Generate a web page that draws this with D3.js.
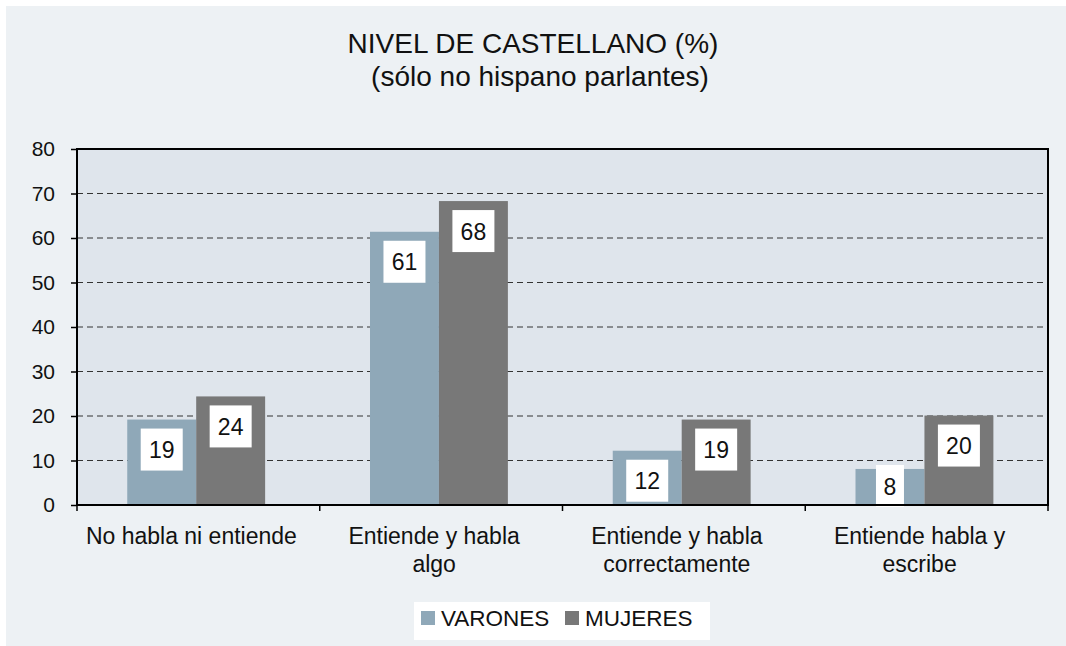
<!DOCTYPE html>
<html>
<head>
<meta charset="utf-8">
<script src="https://cdn.jsdelivr.net/npm/d3@7"></script>
<style>
  html, body { margin: 0; padding: 0; background: #ffffff; }
  svg { display: block; }
  text { font-family: "Liberation Sans", Arial, Helvetica, sans-serif; fill: #111; }
</style>
</head>
<body>
<svg id="chart" width="1066" height="646"></svg>
<script>
const titleLines = ["NIVEL DE CASTELLANO (%)", "(sólo no hispano parlantes)"];
const categories = [
  ["No habla ni entiende"],
  ["Entiende y habla", "algo"],
  ["Entiende y habla", "correctamente"],
  ["Entiende habla y", "escribe"]
];
const seriesNames = ["VARONES", "MUJERES"];
const varones = [19.2, 61.4, 12.2, 8.1];
const mujeres = [24.4, 68.3, 19.2, 20.1];
const yTicks = [0, 10, 20, 30, 40, 50, 60, 70, 80];
const seriesColors = ["#8fa8b8", "#787878"];

const svg = d3.select("#chart");
const W = 1066, H = 646;
const plot = { left: 77, right: 1048, top: 149, bottom: 505 };

// outer panel
svg.append("rect").attr("x", 6).attr("y", 6).attr("width", W - 6).attr("height", H - 6)
  .attr("fill", "#edf1f4");

// title
svg.append("text").attr("x", 533).attr("y", 53).attr("text-anchor", "middle")
  .style("font-size", "28px").text(titleLines[0]);
svg.append("text").attr("x", 540).attr("y", 86).attr("text-anchor", "middle")
  .style("font-size", "28px").text(titleLines[1]);

const catKeys = categories.map(c => c.join(" "));
const x0 = d3.scaleBand().domain(catKeys).range([plot.left, plot.right]).padding(0);
const bw = x0.bandwidth();
const x1 = d3.scaleBand().domain(seriesNames).range([bw * 0.207, bw * 0.775]).padding(0);
const y = d3.scaleLinear().domain([0, 80]).range([plot.bottom, plot.top]);

// plot background
svg.append("rect").attr("x", plot.left).attr("y", plot.top)
  .attr("width", plot.right - plot.left).attr("height", plot.bottom - plot.top)
  .attr("fill", "#dfe5ec");

// gridlines
svg.append("g").selectAll("line").data(yTicks.filter(t => t > 0 && t < 80)).join("line")
  .attr("x1", plot.left).attr("x2", plot.right)
  .attr("y1", d => y(d)).attr("y2", d => y(d))
  .attr("stroke", "#333").attr("stroke-width", 1).attr("stroke-dasharray", "6,4");

// bars
const data = categories.map((c, i) => ({ key: catKeys[i], vals: [varones[i], mujeres[i]] }));
const groups = svg.append("g").selectAll("g").data(data).join("g")
  .attr("transform", d => `translate(${x0(d.key)},0)`);
groups.selectAll("rect").data(d => d.vals.map((v, j) => ({ v, s: seriesNames[j], j }))).join("rect")
  .attr("x", d => x1(d.s)).attr("width", x1.bandwidth())
  .attr("y", d => y(d.v)).attr("height", d => y(0) - y(d.v))
  .attr("fill", d => seriesColors[d.j]);

// value labels
const labelG = groups.selectAll("g.lbl").data(d => d.vals.map((v, j) => ({ v, s: seriesNames[j], j }))).join("g")
  .attr("class", "lbl");
labelG.each(function(d) {
  const g = d3.select(this);
  const txt = String(Math.round(d.v));
  const w = txt.length === 1 ? 28 : 42;
  const h = 42;
  let cy = Math.min(y(d.v) + 30, y(0) - h / 2 + 2);
  const cx = x1(d.s) + x1.bandwidth() / 2;
  g.append("rect").attr("x", cx - w / 2).attr("y", cy - h / 2).attr("width", w).attr("height", h)
    .attr("fill", "#ffffff");
  g.append("text").attr("x", cx).attr("y", cy + 8.5).attr("text-anchor", "middle")
    .style("font-size", "23px").text(txt);
});

// plot border
svg.append("rect").attr("x", plot.left).attr("y", plot.top)
  .attr("width", plot.right - plot.left).attr("height", plot.bottom - plot.top)
  .attr("fill", "none").attr("stroke", "#000").attr("stroke-width", 2);

// y axis
const yAxis = d3.axisLeft(y).tickValues(yTicks).tickSize(6).tickPadding(16).tickFormat(d3.format("d"));
const ya = svg.append("g").attr("transform", `translate(${plot.left},0)`).call(yAxis);
ya.select(".domain").remove();
ya.selectAll("line").attr("stroke", "#000").attr("stroke-width", 1.5);
ya.selectAll("text").style("font-size", "21px").attr("fill", "#111")
  .style("font-family", '"Liberation Sans", Arial, sans-serif');

// x axis category tick marks at boundaries
const bounds = catKeys.map(k => x0(k)).concat([plot.right]);
svg.append("g").selectAll("line").data(bounds).join("line")
  .attr("x1", d => d).attr("x2", d => d)
  .attr("y1", plot.bottom).attr("y2", plot.bottom + 6)
  .attr("stroke", "#000").attr("stroke-width", 1.5);

// category labels
const catG = svg.append("g").selectAll("text").data(categories).join("text")
  .attr("text-anchor", "middle").style("font-size", "23px")
  .attr("x", (d, i) => x0(catKeys[i]) + bw / 2 - 7)
  .attr("y", 544);
catG.selectAll("tspan").data(d => d).join("tspan")
  .attr("x", function() { return d3.select(this.parentNode).attr("x"); })
  .attr("dy", (d, i) => i === 0 ? 0 : 28)
  .text(d => d);

// legend
const lg = svg.append("g");
lg.append("rect").attr("x", 414).attr("y", 602).attr("width", 296).attr("height", 38).attr("fill", "#ffffff");
const legendX = [421, 565];
seriesNames.forEach((s, i) => {
  lg.append("rect").attr("x", legendX[i]).attr("y", 611).attr("width", 14).attr("height", 14)
    .attr("fill", seriesColors[i]);
  lg.append("text").attr("x", legendX[i] + 20).attr("y", 626).style("font-size", "22.5px").text(s);
});
</script>
</body>
</html>
